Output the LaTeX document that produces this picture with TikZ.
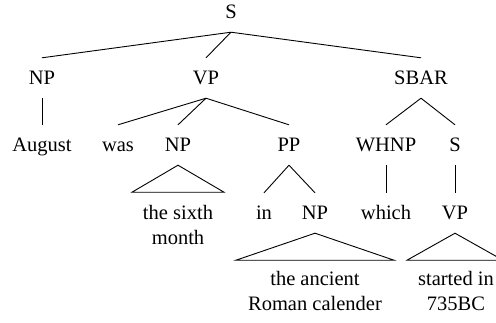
\documentclass[tikz,border=0pt]{standalone}
\usepackage{fontspec}
\setmainfont{Liberation Serif}
\begin{document}
\begin{tikzpicture}[x=1pt,y=-1pt,
  cat/.style={inner sep=0pt,minimum height=40pt,text height=15pt,text depth=3pt,font=\fontsize{20.5}{25}\selectfont},
  leaf/.style={inner sep=0pt,align=center,font=\fontsize{20.5}{25}\selectfont},
  edge/.style={line width=0.9pt}]
\useasboundingbox (0,0) rectangle (496,322);
\node[cat] (S) at (231,12) {S};
\node[cat] (NPa) at (42,78) {NP};
\node[cat] (VP) at (206,78) {VP};
\node[cat] (SBAR) at (421,78) {SBAR};
\node[cat] (aug) at (42,145) {August};
\node[cat] (was) at (118,145) {was};
\node[cat] (NPb) at (178,145) {NP};
\node[cat] (PP) at (289,145) {PP};
\node[cat] (WHNP) at (386,145) {WHNP};
\node[cat] (Sb) at (455,145) {S};
\node[cat] (in) at (264,213) {in};
\node[cat] (NPc) at (315,213) {NP};
\node[cat] (which) at (386,213) {which};
\node[cat] (VPb) at (455,213) {VP};
\node[leaf] (sixth) at (178,225) {the sixth\\month};
\node[leaf] (roman) at (315,291) {the ancient\\Roman calender};
\node[leaf] (start) at (456,291) {started in\\735BC};
\draw[edge] (S.south) -- (NPa.north);
\draw[edge] (S.south) -- (VP.north);
\draw[edge] (S.south) -- (SBAR.north);
\draw[edge] (NPa.south) -- (aug.north);
\draw[edge] (VP.south) -- (was.north);
\draw[edge] (VP.south) -- (NPb.north);
\draw[edge] (VP.south) -- (PP.north);
\draw[edge] (SBAR.south) -- (WHNP.north);
\draw[edge] (SBAR.south) -- (Sb.north);
\draw[edge] (PP.south) -- (in.north);
\draw[edge] (PP.south) -- (NPc.north);
\draw[edge] (WHNP.south) -- (which.north);
\draw[edge] (Sb.south) -- (VPb.north);
\draw[edge] (NPb.south) -- ++(-46,27) -- ++(92,0) -- cycle;
\draw[edge] (NPc.south) -- ++(-79,27) -- ++(158,0) -- cycle;
\draw[edge] (VPb.south) -- ++(-48,27) -- ++(96,0) -- cycle;
\end{tikzpicture}
\end{document}
